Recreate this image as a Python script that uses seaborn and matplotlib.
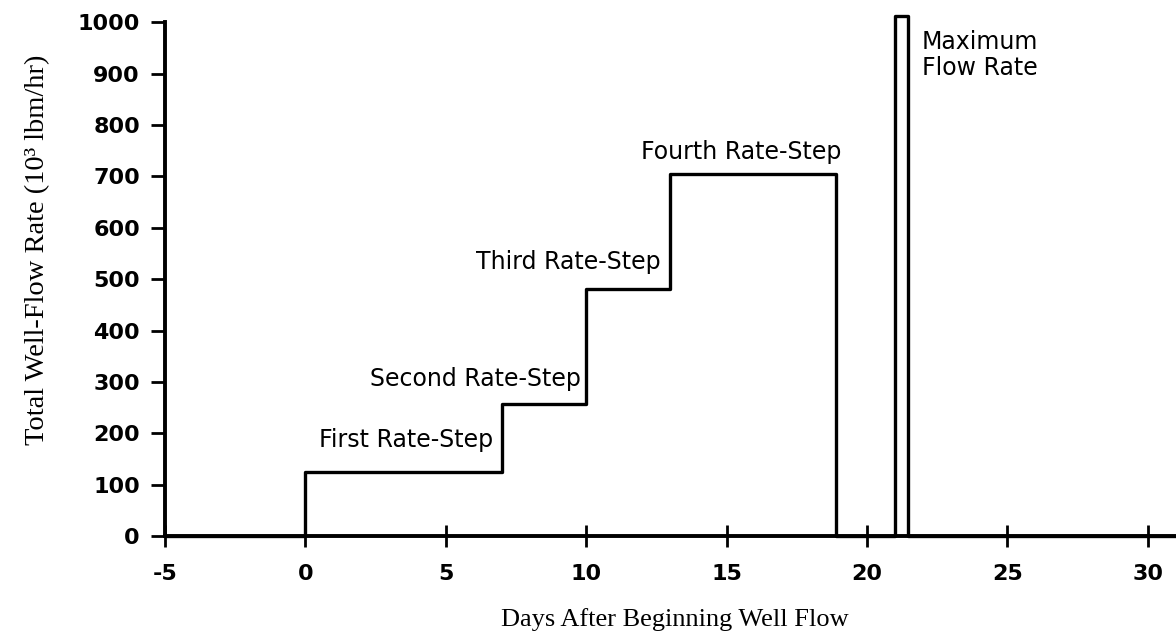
import matplotlib
matplotlib.use("Agg")
import matplotlib.pyplot as plt
import seaborn as sns
import pandas as pd

# Data: step profile of total well-flow rate
days = [-5, 0, 7, 10, 13, 18.9, 21.0, 21.45, 31]
rate = [0, 125, 257, 480, 705, 0, 1013, 0, 0]

x_ticks = [-5, 0, 5, 10, 15, 20, 25, 30]
y_ticks = [0, 100, 200, 300, 400, 500, 600, 700, 800, 900, 1000]

labels = ["First Rate-Step", "Second Rate-Step", "Third Rate-Step", "Fourth Rate-Step", "Maximum\nFlow Rate"]
label_x = [6.7, 9.8, 12.65, 15.5, 21.95]
label_y = [187, 305, 533, 747, 936]
label_ha = ["right", "right", "right", "center", "left"]

sns.set_theme(style="white")
plt.rcParams["font.family"] = ["DejaVu Sans"]

fig = plt.figure(figsize=(11.76, 6.36), dpi=100)
ax = fig.add_axes([0.1403, 0.1572, 0.8597, 0.8240])

df = pd.DataFrame({"days": days, "rate": rate})
sns.lineplot(data=df, x="days", y="rate", ax=ax, estimator=None, sort=False,
             drawstyle="steps-post", color="black", linewidth=2.4, clip_on=False)

ax.set_xlim(-5, 31)
ax.set_ylim(0, 1020)
ax.set_xticks(x_ticks)
ax.set_yticks(y_ticks)
ax.set_xticklabels([str(v) for v in x_ticks], fontsize=16, fontweight="bold", color="black")
ax.set_yticklabels([str(v) for v in y_ticks], fontsize=16, fontweight="bold", color="black")
ax.tick_params(axis="y", left=True, direction="out", length=10, width=2, color="black", pad=8)
ax.tick_params(axis="x", bottom=True, direction="inout", length=16, width=2, color="black", pad=12)

for s in ["top", "right"]:
    ax.spines[s].set_visible(False)
for s in ["left", "bottom"]:
    ax.spines[s].set_linewidth(2.8)
    ax.spines[s].set_color("black")
ax.spines["left"].set_bounds(0, 1000)

ax.set_xlabel("Days After Beginning Well Flow", fontsize=19, family="Liberation Serif", color="black")
ax.set_ylabel("Total Well-Flow Rate (10³ lbm/hr)", fontsize=20.5, family="Liberation Serif", color="black")
ax.xaxis.set_label_coords(0.504, -0.137)
ax.yaxis.set_label_coords(-0.114, 0.546)

for t, xx, yy, ha in zip(labels, label_x, label_y, label_ha):
    ax.text(xx, yy, t, ha=ha, va="center", fontsize=17, linespacing=1.1, color="black")

fig.savefig("out.png", dpi=100)
